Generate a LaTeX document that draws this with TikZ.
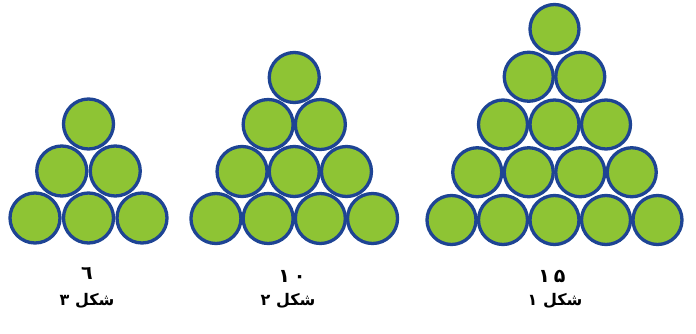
\documentclass[tikz,border=0pt]{standalone}
\usepackage{fontspec}
\newfontfamily\arabicfont[Script=Arabic]{DejaVu Sans}
\TeXXeTstate=1
\definecolor{ballfill}{RGB}{142,196,52}
\definecolor{balledge}{RGB}{30,68,148}
\begin{document}
\begin{tikzpicture}[x=1pt,y=1pt,
  ball/.style={circle,draw=balledge,fill=ballfill,line width=3.3pt,inner sep=0pt,minimum size=#1},
  ball/.default=50pt,
  lbl/.style={font=\arabicfont\bfseries\fontsize{16}{19}\selectfont,inner sep=0pt},
  num/.style={font=\arabicfont\bfseries\fontsize{19}{22}\selectfont,inner sep=0pt}]
\useasboundingbox (0,0) rectangle (696,333);
\fill[white] (0,0) rectangle (696,333);
% figure 3 (left), 3 rows
\foreach \k in {0,...,2}{
  \foreach \j in {0,...,\k}{
    \node[ball] (c3-\k-\j) at ({88.5+(\j-\k/2)*53.5},{333-124-\k*47}) {};
  }
}
% figure 2 (middle), 4 rows
\foreach \k in {0,...,3}{
  \foreach \j in {0,...,\k}{
    \node[ball] (c2-\k-\j) at ({294.25+(\j-\k/2)*52.2},{333-77.5-\k*47}) {};
  }
}
% figure 1 (right), 5 rows
\foreach \k in {0,...,4}{
  \foreach \j in {0,...,\k}{
    \node[ball=49pt] (c1-\k-\j) at ({554.5+(\j-\k/2)*51.5},{333-29-\k*47.75}) {};
  }
}
% labels
\node[num] (n3) at (87,333-273) {٦};
\node[lbl] (f3) at (87,333-301) {\beginR شکل ۳\endR};
\node[num] (n2) at (292,333-276) {۱\kern4pt۰};
\node[lbl] (f2) at (288,333-301) {\beginR شکل ۲\endR};
\node[num] (n1) at (552,333-276) {۱\kern4pt۵};
\node[lbl] (f1) at (555,333-301) {\beginR شکل ۱\endR};
\end{tikzpicture}
\end{document}
